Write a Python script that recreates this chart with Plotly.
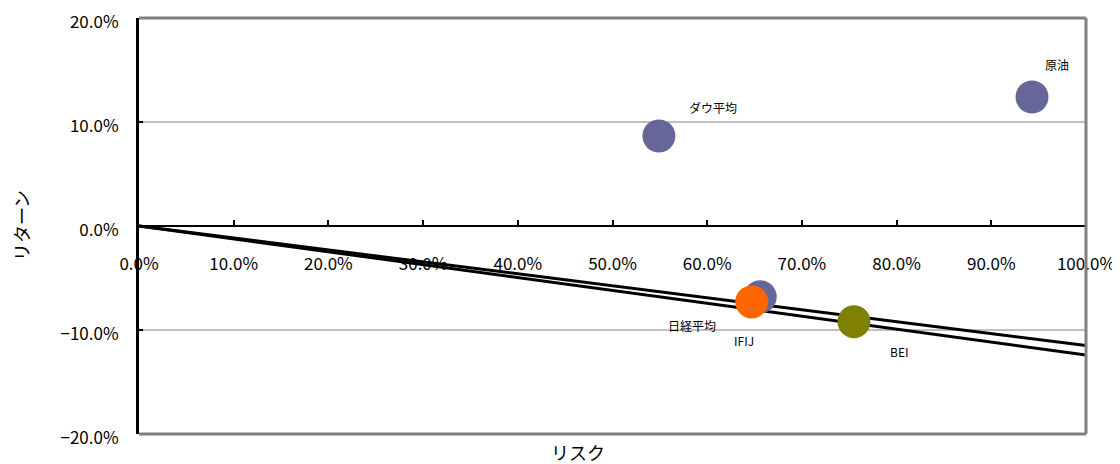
import plotly.graph_objects as go

# Data
names = ["ダウ平均", "原油", "日経平均", "IFIJ", "BEI"]
risk = [0.549, 0.943, 0.656, 0.647, 0.755]
ret = [0.0865, 0.124, -0.068, -0.073, -0.092]
colors = ["#666699", "#666699", "#666699", "#FF6600", "#808000"]

# Reference lines (risk, return endpoints)
line1_x = [0.0, 1.0]
line1_y = [0.0, -0.115]
line2_x = [0.0, 1.0]
line2_y = [0.0, -0.124]

# label offsets (styling, pixels)
label_dx = [54, 25, -68, -8, 45]
label_dy = [29, 33, -29, -39, -30]

FONT = "Noto Sans CJK JP"

fig = go.Figure()
for lx, ly in [(line1_x, line1_y), (line2_x, line2_y)]:
    fig.add_trace(go.Scatter(x=lx, y=ly, mode="lines",
                             line=dict(color="black", width=3),
                             showlegend=False, hoverinfo="skip"))

fig.add_trace(go.Scatter(x=risk, y=ret, mode="markers",
                         marker=dict(size=33, color=colors, line=dict(width=0)),
                         showlegend=False))

annotations = []
for n, xv, yv, dx, dy in zip(names, risk, ret, label_dx, label_dy):
    annotations.append(dict(x=xv, y=yv, text=n, showarrow=False,
                            xshift=dx, yshift=dy,
                            font=dict(family=FONT, size=12, color="black")))

annotations.append(dict(text="リスク", xref="paper", yref="paper", x=0.4636, y=0,
                        yshift=-18, xanchor="center", yanchor="middle", showarrow=False,
                        borderpad=0,
                        font=dict(family=FONT, size=18, color="black")))
annotations.append(dict(text="リターン", xref="paper", yref="paper", x=0, y=0.5,
                        xshift=-118, textangle=-90, xanchor="center", yanchor="middle",
                        showarrow=False, font=dict(family=FONT, size=18, color="black")))

shapes = [
    dict(type="line", xref="paper", yref="paper", x0=0, x1=1, y0=1, y1=1,
         line=dict(color="#808080", width=3)),
    dict(type="line", xref="paper", yref="paper", x0=0, x1=1, y0=0, y1=0,
         line=dict(color="#808080", width=3)),
    dict(type="line", xref="paper", yref="paper", x0=1, x1=1, y0=0, y1=1,
         line=dict(color="#808080", width=3)),
]

# page body has an 8px default margin, so the figure is sized to compensate
fig.update_layout(
    width=1112, height=456,
    margin=dict(l=131, r=34, t=10, b=30, autoexpand=False),
    plot_bgcolor="white", paper_bgcolor="white",
    annotations=annotations, shapes=shapes,
    xaxis=dict(range=[0, 1], tickvals=[i / 10 for i in range(11)], tickformat=".1%",
               anchor="free", position=0.5, showline=True, linecolor="black", linewidth=2,
               ticks="inside", ticklen=5, tickwidth=2, tickcolor="black",
               showgrid=False, zeroline=False, ticklabelstandoff=23, automargin=False,
               ticklabeloverflow="allow",
               tickfont=dict(family=FONT, size=17, color="black")),
    yaxis=dict(range=[-0.2, 0.2], tickvals=[-0.2, -0.1, 0, 0.1, 0.2], tickformat=".1%",
               showline=True, linecolor="black", linewidth=3,
               ticks="inside", ticklen=4, tickwidth=2, tickcolor="black",
               showgrid=True, gridcolor="#C0C0C0", gridwidth=2, automargin=False,
               zeroline=True, zerolinecolor="black", zerolinewidth=2,
               ticklabelstandoff=14, ticklabelshift=4, ticklabeloverflow="allow",
               tickfont=dict(family=FONT, size=17, color="black")),
)

fig.write_html("out.html")
